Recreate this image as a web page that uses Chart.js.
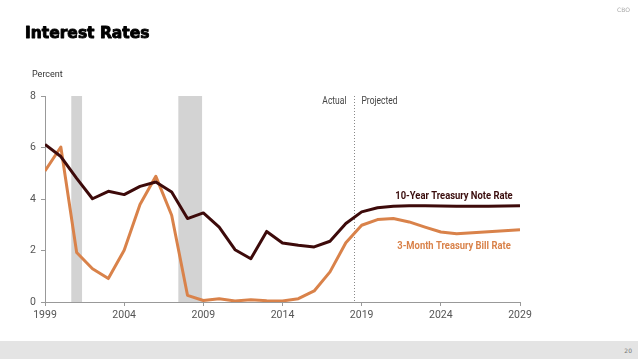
<!DOCTYPE html>
<html><head><meta charset="utf-8">
<script src="https://cdn.jsdelivr.net/npm/chart.js@4"></script>
<style>
html,body{margin:0;padding:0;background:#fff;width:638px;height:359px;overflow:hidden;font-family:"Roboto",sans-serif;}
#wrap{position:absolute;left:0;top:0;width:638px;height:359px;}
#footer{position:absolute;left:0;top:341px;width:638px;height:18px;background:#e4e4e4;}
#pg{position:absolute;right:6px;top:6px;font-size:6px;color:#777;font-family:"DejaVu Sans",sans-serif;}
#cbo{position:absolute;right:8px;top:6px;font-size:6px;color:#aaa;font-family:"DejaVu Sans",sans-serif;}
canvas{position:absolute;left:0;top:0;}
</style></head>
<body><div id="wrap">
<div id="footer"><span id="pg">20</span></div>
<canvas id="c" width="638" height="359"></canvas>
<div id="cbo">CBO</div>
</div>
<script>
const years = [1999,2000,2001,2002,2003,2004,2005,2006,2007,2008,2009,2010,2011,2012,2013,2014,2015,2016,2017,2018,2019,2020,2021,2022,2023,2024,2025,2026,2027,2028,2029];
const tenYearNote = [6.12,5.65,4.8,4.01,4.30,4.17,4.49,4.66,4.27,3.24,3.46,2.91,2.03,1.68,2.74,2.29,2.20,2.14,2.36,3.05,3.50,3.66,3.72,3.74,3.74,3.73,3.72,3.72,3.72,3.73,3.74];
const threeMonthBill = [5.09,6.02,1.92,1.29,0.91,2.01,3.79,4.88,3.37,0.26,0.06,0.13,0.04,0.09,0.05,0.04,0.13,0.43,1.17,2.30,2.98,3.20,3.24,3.11,2.91,2.72,2.65,2.69,2.73,2.77,2.81];
const recessionStart = [2000.66, 2007.42];
const recessionEnd = [2001.34, 2008.92];
const projectionStart = 2018.54;
const yTicks = [0,2,4,6,8];
const xTicks = [1999,2004,2009,2014,2019,2024,2029];

const FONT = '"Roboto",sans-serif';

function scaledText(ctx, text, x, y, sx, align){
  ctx.save();
  ctx.translate(x, y);
  ctx.scale(sx, 1);
  ctx.textAlign = align;
  ctx.fillText(text, 0, 0);
  ctx.restore();
}

const overlay = {
  id:'overlay',
  beforeDatasetsDraw(chart){
    const {ctx, chartArea:a, scales:{x,y}} = chart;
    ctx.save();
    ctx.fillStyle = '#d3d3d3';
    for(let i=0;i<recessionStart.length;i++){
      const x0 = x.getPixelForValue(recessionStart[i]), x1 = x.getPixelForValue(recessionEnd[i]);
      ctx.fillRect(x0, a.top, x1-x0, a.bottom-a.top);
    }
    const px = Math.round(x.getPixelForValue(projectionStart))+0.5;
    ctx.strokeStyle = '#888';
    ctx.lineWidth = 1;
    ctx.setLineDash([1,2]);
    ctx.beginPath(); ctx.moveTo(px, a.top); ctx.lineTo(px, a.bottom); ctx.stroke();
    ctx.setLineDash([]);
    ctx.font = '10px '+FONT;
    ctx.fillStyle = '#444';
    ctx.textBaseline = 'alphabetic';
    scaledText(ctx, 'Actual', px-8, a.top+8, 0.85, 'right');
    scaledText(ctx, 'Projected', px+7, a.top+8, 0.85, 'left');
    ctx.restore();
  },
  afterDatasetsDraw(chart){
    const {ctx} = chart;
    ctx.save();
    ctx.textBaseline = 'middle';
    ctx.textAlign = 'center';
    ctx.font = 'bold 10px '+FONT;
    ctx.fillStyle = '#3a0d0d';
    scaledText(ctx, '10-Year Treasury Note Rate', 454, 196, 0.94, 'center');
    ctx.fillStyle = '#d9824a';
    scaledText(ctx, '3-Month Treasury Bill Rate', 454, 246, 0.94, 'center');
    // titles
    ctx.textBaseline = 'alphabetic';
    ctx.textAlign = 'left';
    ctx.fillStyle = '#000';
    ctx.strokeStyle = '#000';
    ctx.lineWidth = 0.9;
    ctx.lineJoin = 'round';
    ctx.font = 'bold 15.5px "DejaVu Sans",sans-serif';
    ctx.fillText('Interest Rates', 25, 37.5);
    ctx.strokeText('Interest Rates', 25, 37.5);
    ctx.fillStyle = '#333';
    ctx.font = '9px '+FONT;
    ctx.fillText('Percent', 32, 77);
    ctx.restore();
  }
};

new Chart(document.getElementById('c'), {
  type:'line',
  data:{
    datasets:[
      {label:'10-Year Treasury Note Rate', data: years.map((yr,i)=>({x:yr,y:tenYearNote[i]})), borderColor:'#3d0a0a', borderWidth:3, pointRadius:0, tension:0, borderJoinStyle:'round'},
      {label:'3-Month Treasury Bill Rate', data: years.map((yr,i)=>({x:yr,y:threeMonthBill[i]})), borderColor:'#d9824a', borderWidth:3, pointRadius:0, tension:0, borderJoinStyle:'round'}
    ]
  },
  options:{
    responsive:false, animation:false,
    layout:{padding:{top:96,right:118,left:0,bottom:0}},
    plugins:{legend:{display:false}, tooltip:{enabled:false}},
    scales:{
      x:{type:'linear', min:1999, max:2029,
        afterFit(s){s.height=57;},
        afterBuildTicks(s){s.ticks = xTicks.map(v=>({value:v}));},
        grid:{drawOnChartArea:false, drawTicks:true, tickLength:4, color:'#999'},
        border:{color:'#999', width:1},
        ticks:{font:{family:FONT,size:10.5}, color:'#555', padding:3, maxRotation:0, callback:v=>String(v)}
      },
      y:{type:'linear', min:0, max:8,
        afterFit(s){s.width=45;},
        afterBuildTicks(s){s.ticks = yTicks.map(v=>({value:v}));},
        grid:{drawOnChartArea:false, drawTicks:true, tickLength:4, color:'#999'},
        border:{color:'#999', width:1},
        ticks:{font:{family:FONT,size:10.5}, color:'#555', padding:5, callback:v=>String(v)}
      }
    }
  },
  plugins:[overlay]
});
</script>
</body></html>
